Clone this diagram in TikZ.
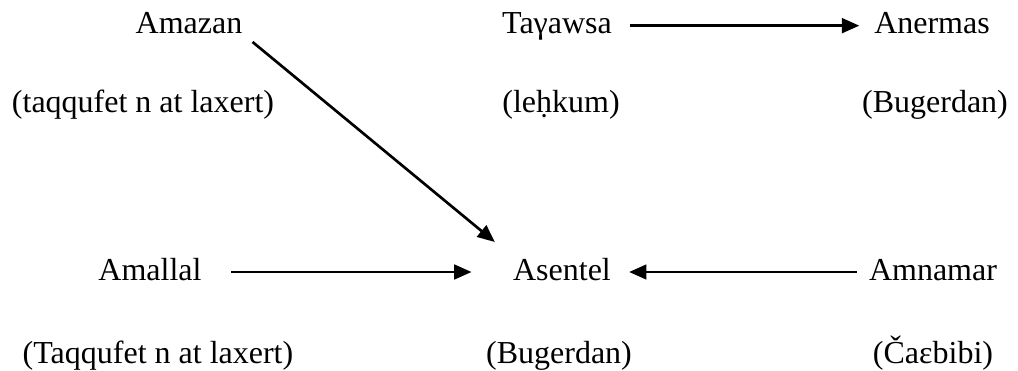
\documentclass[tikz,border=0pt]{standalone}
\usepackage{fontspec}
\setmainfont{Liberation Serif}
\usetikzlibrary{arrows.meta,calc}
\begin{document}
\begin{tikzpicture}[x=0.75pt,y=-0.75pt,
  lbl/.style={inner sep=0pt,anchor=base,font=\fontsize{24}{28}\selectfont},
  arr/.style={line width=2pt,-{Triangle[length=13pt,width=11pt]}}]
\useasboundingbox (0,0) rectangle (1018,371);
\node[lbl] (amazan) at (189,33) {Amazan};
\node[lbl] (tagawsa) at (557,33) {Taγawsa};
\node[lbl] (anermas) at (932,33) {Anermas};
\node[lbl] (l1) at (143,112) {(taqqufet n at laxert)};
\node[lbl] (l2) at (561,112) {(leḥkum)};
\node[lbl] (l3) at (935,112) {(Bugerdan)};
\node[lbl] (amallal) at (150,280) {Amallal};
\node[lbl] (asentel) at (562,280) {Asentel};
\node[lbl] (amnamar) at (933,280) {Amnamar};
\node[lbl] (b1) at (158,363) {(Taqqufet n at laxert)};
\node[lbl] (b2) at (559,363) {(Bugerdan)};
\node[lbl] (b3) at (933,363) {(Čaɛbibi)};
\coordinate (d1) at ($(amazan.base east)+(10,9)$);
\coordinate (d2) at ($(asentel.base west)+(-18,-38)$);
\draw[arr, shorten <=13.5pt, shorten >=11pt] ([yshift=5.5pt]tagawsa.base east) -- ([yshift=5.5pt]anermas.base west);
\draw[arr] (d1) -- (d2);
\draw[arr, shorten <=22pt, shorten >=31pt] ([yshift=6pt]amallal.base east) -- ([yshift=6pt]asentel.base west);
\draw[arr, shorten <=9pt, shorten >=13.5pt] ([yshift=6pt]amnamar.base west) -- ([yshift=6pt]asentel.base east);
\end{tikzpicture}
\end{document}
